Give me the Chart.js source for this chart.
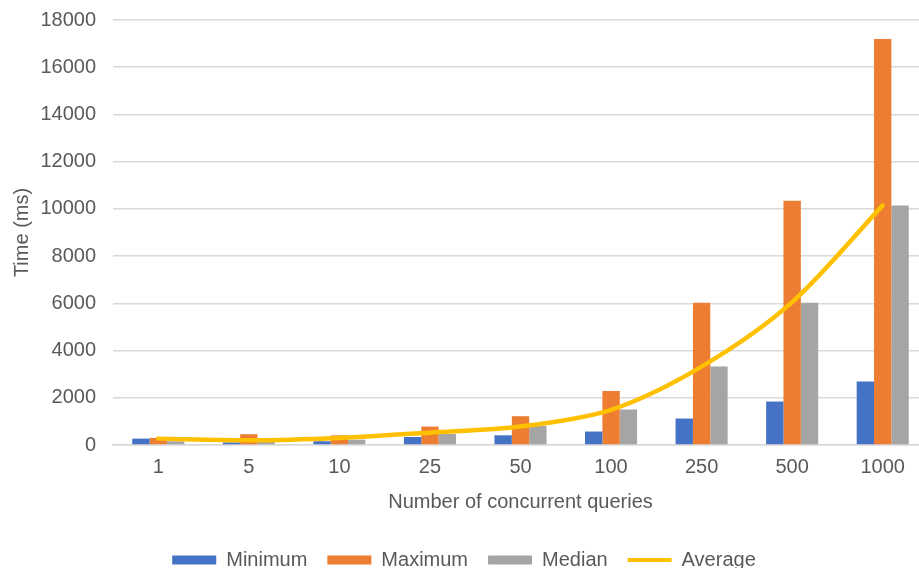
<!DOCTYPE html>
<html>
<head>
<meta charset="utf-8">
<script src="https://cdn.jsdelivr.net/npm/chart.js@4/dist/chart.umd.min.js"></script>
<style>
  html, body { margin: 0; padding: 0; background: #fff; overflow: hidden; }
  #wrap { width: 919px; height: 568px; overflow: hidden; }
  canvas { display: block; }
</style>
</head>
<body>
<div id="wrap"><canvas id="chart" width="940" height="568"></canvas></div>
<script>
// Query latency by concurrency level (ms)
const categories = ['1', '5', '10', '25', '50', '100', '250', '500', '1000'];
const minimum = [270, 110, 160, 340, 410, 570, 1120, 1840, 2690];
const maximum = [300, 455, 410, 780, 1220, 2285, 6030, 10350, 17200];
const median  = [160, 130, 227, 470, 808, 1503, 3320, 6030, 10140];
const average = [270, 200, 300, 520, 780, 1490, 3320, 6050, 10150];
const yTicks = [0, 2000, 4000, 6000, 8000, 10000, 12000, 14000, 16000, 18000];

const textColor = '#595959';
const gridColor = '#D9D9D9';
const fontFamily = '"Liberation Sans", Arial, sans-serif';

const bar = (label, data, color) => ({
  type: 'bar', label, data,
  backgroundColor: color,
  borderWidth: 0,
  categoryPercentage: 0.575,
  barPercentage: 1.0,
  order: 1
});

new Chart(document.getElementById('chart'), {
  data: {
    labels: categories,
    datasets: [
      bar('Minimum', minimum, '#4472C4'),
      bar('Maximum', maximum, '#ED7D31'),
      bar('Median', median, '#A5A5A5'),
      {
        type: 'line', label: 'Average', data: average,
        borderColor: '#FFC000', backgroundColor: '#FFC000',
        borderWidth: 4.5, tension: 0.3, pointRadius: 0,
        borderCapStyle: 'round', borderJoinStyle: 'round',
        order: 0
      }
    ]
  },
  options: {
    responsive: false,
    animation: false,
    layout: { padding: { top: 20, right: 12, left: 0, bottom: -12 } },
    plugins: {
      tooltip: { enabled: false },
      legend: {
        position: 'bottom',
        labels: {
          color: textColor,
          font: { family: fontFamily, size: 20 },
          usePointStyle: true,
          pointStyleWidth: 44,
          boxHeight: 9,
          padding: 20,
          generateLabels(chart) {
            return chart.data.datasets.map((ds, i) => {
              const isLine = ds.type === 'line';
              return {
                text: ds.label,
                datasetIndex: i,
                fillStyle: ds.backgroundColor,
                strokeStyle: isLine ? ds.borderColor : ds.backgroundColor,
                lineWidth: isLine ? 4 : 0,
                pointStyle: isLine ? 'line' : 'rect',
                fontColor: textColor,
                hidden: false
              };
            });
          }
        }
      }
    },
    scales: {
      x: {
        grid: { display: false, drawTicks: false },
        border: { display: true, color: gridColor, width: 1.5 },
        ticks: { color: textColor, font: { family: fontFamily, size: 20 }, padding: 10 },
        title: {
          display: true, text: 'Number of concurrent queries',
          color: textColor, font: { family: fontFamily, size: 20 },
          padding: { top: 15, bottom: 16 }
        },
        afterFit(scale) { scale.height = 85; }
      },
      y: {
        min: 0, max: 18000,
        grid: { color: gridColor, lineWidth: 1.5, drawTicks: false },
        border: { display: false },
        afterBuildTicks(scale) { scale.ticks = yTicks.map(v => ({ value: v })); },
        ticks: {
          color: textColor, font: { family: fontFamily, size: 20 }, padding: 17,
          callback: v => String(v)
        },
        title: {
          display: true, text: 'Time (ms)',
          color: textColor, font: { family: fontFamily, size: 20 },
          padding: { top: 10, bottom: 4 }
        },
        afterFit(scale) {
          scale.width = 113;
          scale.paddingTop = 0;
          scale.paddingBottom = 0;
        }
      }
    }
  }
});
</script>
</body>
</html>
